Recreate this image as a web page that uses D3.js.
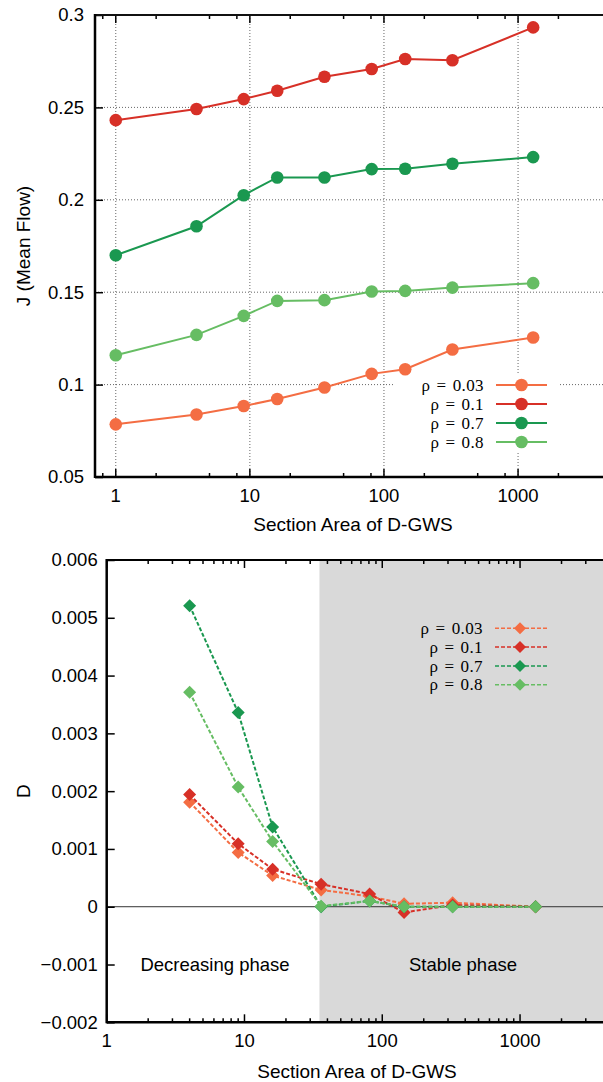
<!DOCTYPE html>
<html><head><meta charset="utf-8">
<script src="https://cdn.jsdelivr.net/npm/d3@7"></script>
<style>body{margin:0;background:#fff}svg{display:block}</style>
</head><body>
<svg id="c" width="603" height="1082"></svg>
<script>
// ---- data ----
const labels = ["ρ = 0.03", "ρ = 0.1", "ρ = 0.7", "ρ = 0.8"];
const colors = ["#f46d43", "#d73027", "#1a9850", "#66bd63"];
const xTopVals = [1, 4, 9, 16, 36, 81, 144, 324, 1296];
const jRho003 = [0.0785, 0.0838, 0.0884, 0.0922, 0.0984, 0.1058, 0.1083, 0.1190, 0.1255];
const jRho01  = [0.2431, 0.2491, 0.2545, 0.2590, 0.2666, 0.2708, 0.2762, 0.2755, 0.2933];
const jRho07  = [0.1700, 0.1857, 0.2025, 0.2121, 0.2121, 0.2166, 0.2168, 0.2195, 0.2231];
const jRho08  = [0.1159, 0.1269, 0.1372, 0.1453, 0.1457, 0.1504, 0.1507, 0.1525, 0.1549];
const xBotVals = [4, 9, 16, 36, 81, 144, 324, 1296];
const dRho003 = [0.00181, 0.00094, 0.00054, 0.00029, 0.00018, 0.00005, 0.00007, 0.0];
const dRho01  = [0.00194, 0.00109, 0.00065, 0.00039, 0.00022, -0.00010, 0.00003, 0.0];
const dRho07  = [0.00521, 0.00336, 0.00138, 0.0, 0.00010, 0.0, 0.0, 0.0];
const dRho08  = [0.00371, 0.00207, 0.00113, 0.00001, 0.00010, 0.0, 0.0, 0.0];
const jTicks = [0.05, 0.1, 0.15, 0.2, 0.25, 0.3];
const dTicks = [-0.002, -0.001, 0, 0.001, 0.002, 0.003, 0.004, 0.005, 0.006];
const xMajor = [1, 10, 100, 1000];
const stableStart = 35;

const svg = d3.select("#c");
const sans = "'Liberation Sans', Arial, Helvetica, sans-serif";
const serif = "'Liberation Serif', 'DejaVu Serif', 'Times New Roman', serif";
const FS = 18.5;

// ================= TOP CHART =================
const T = {l: 95, r: 603, t: 15, b: 477};
const xT = d3.scaleLog().domain([0.7, 4300]).range([T.l, T.r]);
const yT = d3.scaleLinear().domain([0.05, 0.3]).range([T.b, T.t]);
const gT = svg.append("g");

// grid
gT.selectAll(".gx").data(xMajor).join("line")
  .attr("x1", d => xT(d)).attr("x2", d => xT(d)).attr("y1", T.t).attr("y2", T.b)
  .attr("stroke", "#666").attr("stroke-width", 1).attr("stroke-dasharray", "1,2");
gT.selectAll(".gy").data(jTicks.filter(d => d > 0.05 && d < 0.3)).join("line")
  .attr("x1", T.l).attr("x2", T.r).attr("y1", d => yT(d)).attr("y2", d => yT(d))
  .attr("stroke", "#666").attr("stroke-width", 1).attr("stroke-dasharray", "1,2");

// legend background (covers grid)
gT.append("rect").attr("x", 393).attr("y", 375).attr("width", 165).attr("height", 76).attr("fill", "#fff");

// minor ticks
const minorT = [];
[0.1, 1, 10, 100, 1000].forEach(dec => [2, 5, 8].forEach(m => { const v = dec * m; if (v > 0.7 && v < 4300) minorT.push(v); }));
function xTicksDraw(g, x, yb, yt, majors, minors, majLen, minLen) {
  g.selectAll(null).data(majors).join("line").attr("x1", d => x(d)).attr("x2", d => x(d))
    .attr("y1", yb).attr("y2", yb - majLen).attr("stroke", "#000").attr("stroke-width", 1.5);
  g.selectAll(null).data(majors).join("line").attr("x1", d => x(d)).attr("x2", d => x(d))
    .attr("y1", yt).attr("y2", yt + majLen).attr("stroke", "#000").attr("stroke-width", 1.5);
  g.selectAll(null).data(minors).join("line").attr("x1", d => x(d)).attr("x2", d => x(d))
    .attr("y1", yb).attr("y2", yb - minLen).attr("stroke", "#000").attr("stroke-width", 1.5);
  g.selectAll(null).data(minors).join("line").attr("x1", d => x(d)).attr("x2", d => x(d))
    .attr("y1", yt).attr("y2", yt + minLen).attr("stroke", "#000").attr("stroke-width", 1.5);
}
xTicksDraw(gT, xT, T.b, T.t, xMajor, minorT, 8, 4);

// y axis
const yAxT = d3.axisLeft(yT).tickValues(jTicks).tickSize(-8).tickPadding(11).tickFormat(d3.format("~g"));
const yaT = gT.append("g").attr("transform", `translate(${T.l},0)`).call(yAxT);
yaT.select(".domain").remove();
yaT.selectAll("line").attr("stroke-width", 1.5);
yaT.selectAll("text").attr("font-family", sans).attr("font-size", FS).attr("fill", "#000");

// x labels
gT.selectAll(".xl").data(xMajor).join("text").attr("x", d => xT(d)).attr("y", T.b + 25)
  .attr("text-anchor", "middle").attr("font-family", sans).attr("font-size", FS).text(d => d);

// frame
gT.append("line").attr("x1", T.l).attr("x2", T.r).attr("y1", T.t).attr("y2", T.t).attr("stroke", "#111").attr("stroke-width", 2);
gT.append("line").attr("x1", T.l).attr("x2", T.r).attr("y1", T.b).attr("y2", T.b).attr("stroke", "#000").attr("stroke-width", 2.5);
gT.append("line").attr("x1", T.l).attr("x2", T.l).attr("y1", T.t - 1).attr("y2", T.b + 1).attr("stroke", "#000").attr("stroke-width", 2.5);

// series
const topSeries = [jRho003, jRho01, jRho07, jRho08];
const lineT = d3.line().x((d, i) => xT(xTopVals[i])).y(d => yT(d));
topSeries.forEach((s, k) => {
  gT.append("path").datum(s).attr("d", lineT).attr("fill", "none").attr("stroke", colors[k]).attr("stroke-width", 2);
  gT.selectAll(null).data(s).join("circle").attr("cx", (d, i) => xT(xTopVals[i])).attr("cy", d => yT(d))
    .attr("r", 6.3).attr("fill", colors[k]);
});

// titles
gT.append("text").attr("x", 353).attr("y", 531).attr("text-anchor", "middle").attr("font-family", sans).attr("font-size", 19).text("Section Area of D-GWS");
gT.append("text").attr("transform", `translate(30,${(T.t + T.b) / 2}) rotate(-90)`).attr("text-anchor", "middle")
  .attr("font-family", sans).attr("font-size", 19).text("J (Mean Flow)");

// legend
function legendText(g, x, y, lab) {
  g.append("text").attr("x", x).attr("y", y).attr("dy", "0.33em").attr("text-anchor", "end")
    .attr("font-family", serif).attr("font-size", 17).attr("letter-spacing", 0.4).attr("word-spacing", 1.5)
    .attr("fill", "#000").text(lab);
}
labels.forEach((lab, k) => {
  const y = 385 + k * 19;
  legendText(gT, 484, y, lab);
  gT.append("line").attr("x1", 496).attr("x2", 547).attr("y1", y).attr("y2", y).attr("stroke", colors[k]).attr("stroke-width", 2);
  gT.append("circle").attr("cx", 521.5).attr("cy", y).attr("r", 6.3).attr("fill", colors[k]);
});

// ================= BOTTOM CHART =================
const B = {l: 106.7, r: 603, t: 560, b: 1022.3};
const xB = d3.scaleLog().domain([1, 4000]).range([B.l, B.r]);
const yB = d3.scaleLinear().domain([-0.002, 0.006]).range([B.b, B.t]);
const gB = svg.append("g");

// shaded stable region
gB.append("rect").attr("x", xB(stableStart)).attr("y", B.t).attr("width", B.r - xB(stableStart)).attr("height", B.b - B.t).attr("fill", "#d9d9d9");

// zero line
gB.append("line").attr("x1", B.l).attr("x2", B.r).attr("y1", yB(0)).attr("y2", yB(0)).attr("stroke", "#333").attr("stroke-width", 1);

// ticks
const minorB = [];
[1, 10, 100, 1000].forEach(dec => [2, 3, 4, 5, 6, 7, 8, 9].forEach(m => { const v = dec * m; if (v < 4000) minorB.push(v); }));
xTicksDraw(gB, xB, B.b, B.t, xMajor, minorB, 8, 4);

const yAxB = d3.axisLeft(yB).tickValues(dTicks).tickSize(-8).tickPadding(9).tickFormat(d3.format("~g"));
const yaB = gB.append("g").attr("transform", `translate(${B.l},0)`).call(yAxB);
yaB.select(".domain").remove();
yaB.selectAll("line").attr("stroke-width", 1.5);
yaB.selectAll("text").attr("font-family", sans).attr("font-size", FS).attr("fill", "#000");

gB.selectAll(".xl").data(xMajor).join("text").attr("x", d => xB(d)).attr("y", B.b + 25)
  .attr("text-anchor", "middle").attr("font-family", sans).attr("font-size", FS).text(d => d);

// frame
gB.append("line").attr("x1", B.l).attr("x2", B.r).attr("y1", B.t).attr("y2", B.t).attr("stroke", "#000").attr("stroke-width", 2);
gB.append("line").attr("x1", B.l).attr("x2", B.r).attr("y1", B.b).attr("y2", B.b).attr("stroke", "#000").attr("stroke-width", 2.5);
gB.append("line").attr("x1", B.l).attr("x2", B.l).attr("y1", B.t - 1).attr("y2", B.b + 1).attr("stroke", "#000").attr("stroke-width", 2.5);

// phase labels
gB.append("text").attr("x", 215).attr("y", 965).attr("dy", "0.35em").attr("text-anchor", "middle").attr("font-family", sans).attr("font-size", FS).text("Decreasing phase");
gB.append("text").attr("x", 463).attr("y", 965).attr("dy", "0.35em").attr("text-anchor", "middle").attr("font-family", sans).attr("font-size", FS).text("Stable phase");

// series
const botSeries = [dRho003, dRho01, dRho07, dRho08];
const lineB = d3.line().x((d, i) => xB(xBotVals[i])).y(d => yB(d));
const diamond = (cx, cy, s) => `M${cx},${cy - s}L${cx + s},${cy}L${cx},${cy + s}L${cx - s},${cy}Z`;
botSeries.forEach((s, k) => {
  gB.append("path").datum(s).attr("d", lineB).attr("fill", "none").attr("stroke", colors[k]).attr("stroke-width", 2).attr("stroke-dasharray", "4,2");
  gB.selectAll(null).data(s).join("path").attr("d", (d, i) => diamond(xB(xBotVals[i]), yB(d), 6.5)).attr("fill", colors[k]);
});

// titles
gB.append("text").attr("x", 357).attr("y", 1078).attr("text-anchor", "middle").attr("font-family", sans).attr("font-size", 19).text("Section Area of D-GWS");
gB.append("text").attr("transform", `translate(30,${(B.t + B.b) / 2}) rotate(-90)`).attr("text-anchor", "middle")
  .attr("font-family", sans).attr("font-size", 19).text("D");

// legend
labels.forEach((lab, k) => {
  const y = 628.3 + k * 18.8;
  legendText(gB, 483, y, lab);
  gB.append("line").attr("x1", 495).attr("x2", 547).attr("y1", y).attr("y2", y).attr("stroke", colors[k]).attr("stroke-width", 1.5).attr("stroke-dasharray", "4,2");
  gB.append("path").attr("d", diamond(520, y, 6)).attr("fill", colors[k]);
});
</script>
</body></html>
